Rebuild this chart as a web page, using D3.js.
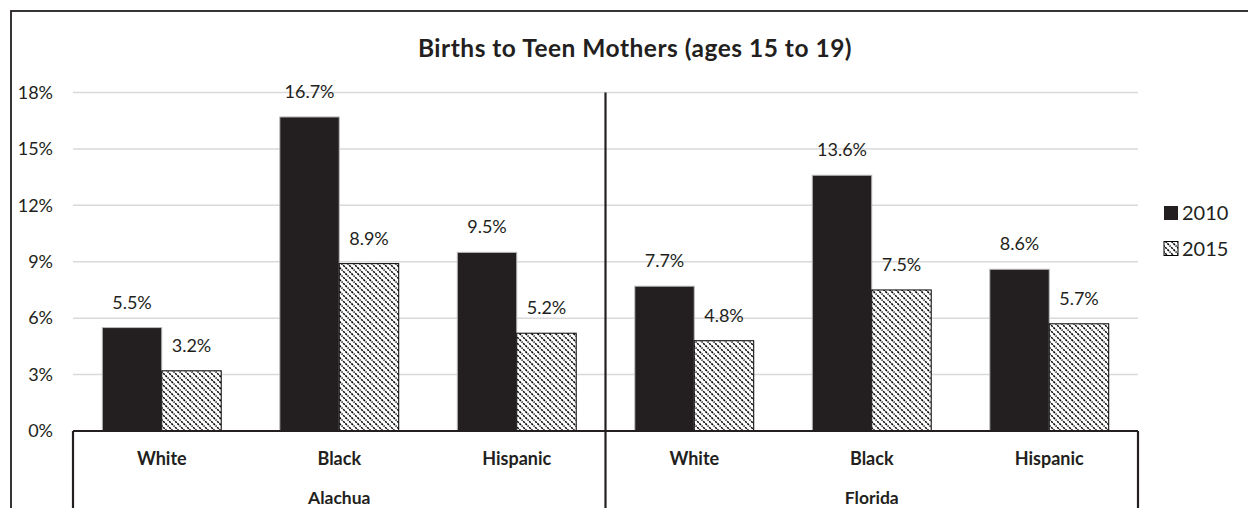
<!DOCTYPE html>
<html><head><meta charset="utf-8">
<script src="https://cdn.jsdelivr.net/npm/d3@7"></script>
<style>body{margin:0;background:#fff}svg{display:block}</style>
</head><body>
<svg id="c" width="1248" height="508"></svg>
<script>
const regions = ["Alachua", "Florida"];
const races = ["White", "Black", "Hispanic"];
const series = ["2010", "2015"];
const values2010 = [5.5, 16.7, 9.5, 7.7, 13.6, 8.6];
const values2015 = [3.2, 8.9, 5.2, 4.8, 7.5, 5.7];
const yTicks = [0, 3, 6, 9, 12, 15, 18];
const title = "Births to Teen Mothers (ages 15 to 19)";

(function(){
const FONT = "Lato, 'Open Sans', sans-serif";
const INK = "#231f20";
const svg = d3.select("#c");
const defs = svg.append("defs");
const pat = defs.append("pattern").attr("id","hatch").attr("patternUnits","userSpaceOnUse")
  .attr("width",6).attr("height",6);
pat.append("rect").attr("width",6).attr("height",6).attr("fill","#fff");
pat.append("path").attr("d","M-1,-1 L7,7 M-1,5 L1,7 M5,-1 L7,1").attr("stroke","#000")
  .attr("stroke-width",1.5).attr("stroke-dasharray","2.2,0.9");

svg.append("rect").attr("x",11).attr("y",11).attr("width",1400).attr("height",700)
  .attr("fill","none").attr("stroke",INK).attr("stroke-width",1.8);

const pLeft = 73, pRight = 1138, pTop = 92.5, base = 431;
const cats = [];
regions.forEach(r => races.forEach(c => cats.push(r + "|" + c)));
const x = d3.scaleBand().domain(cats).range([pLeft, pRight]).paddingInner(0.33).paddingOuter(0.165);
const x1 = d3.scaleBand().domain(series).range([0, x.bandwidth()]);
const y = d3.scaleLinear().domain([0, 18]).range([base, pTop]);

svg.append("g").selectAll("line").data(yTicks.filter(t=>t>0)).join("line")
  .attr("x1",pLeft).attr("x2",pRight).attr("y1",d=>y(d)).attr("y2",d=>y(d))
  .attr("stroke","#d9d9d9").attr("stroke-width",1.5);

const yAxis = d3.axisLeft(y).tickValues(yTicks).tickFormat(d=>d+"%").tickSize(0).tickPadding(0);
const ya = svg.append("g").attr("transform",`translate(53,0)`).call(yAxis);
ya.select(".domain").remove();
ya.selectAll("text").attr("font-family",FONT).attr("font-size",18).attr("fill",INK);

const data = [];
cats.forEach((c,i)=>{
  data.push({cat:c, s:"2010", v:values2010[i]});
  data.push({cat:c, s:"2015", v:values2015[i]});
});
svg.append("g").selectAll("rect").data(data).join("rect")
  .attr("x",d=>x(d.cat)+x1(d.s)).attr("width",x1.bandwidth())
  .attr("y",d=>y(d.v)).attr("height",d=>base-y(d.v))
  .attr("fill",d=>d.s==="2010"?INK:"url(#hatch)")
  .attr("stroke",d=>d.s==="2010"?"#bbb":"#000").attr("stroke-width",1);

svg.append("g").selectAll("text").data(data).join("text")
  .attr("x",d=>x(d.cat)+x1(d.s)+x1.bandwidth()/2).attr("y",d=>y(d.v)-19)
  .attr("text-anchor","middle").attr("font-family",FONT).attr("font-size",18).attr("fill",INK)
  .text(d=>d.v.toFixed(1)+"%");

svg.append("line").attr("x1",pLeft).attr("x2",pRight).attr("y1",base).attr("y2",base)
  .attr("stroke",INK).attr("stroke-width",2.2);
const mid = x(cats[3]) - x.step()*x.paddingInner()/2;
[[pLeft,base],[mid,pTop],[pRight,base]].forEach(([xx,y0])=>{
  svg.append("line").attr("x1",xx).attr("x2",xx).attr("y1",y0).attr("y2",510)
    .attr("stroke",INK).attr("stroke-width",2.2);
});

svg.append("g").selectAll("text").data(cats).join("text")
  .attr("x",d=>x(d)+x.bandwidth()/2).attr("y",465)
  .attr("text-anchor","middle").attr("font-family",FONT).attr("font-size",18).attr("font-weight","bold")
  .attr("fill",INK).text(d=>d.split("|")[1]);
const regionScale = d3.scaleBand().domain(regions).range([pLeft,pRight]);
svg.append("g").selectAll("text").data(regions).join("text")
  .attr("x",d=>regionScale(d)+regionScale.bandwidth()/2).attr("y",504)
  .attr("text-anchor","middle").attr("font-family",FONT).attr("font-size",17.5).attr("font-weight","bold")
  .attr("fill",INK).text(d=>d);

svg.append("text").attr("x",635).attr("y",57).attr("text-anchor","middle")
  .attr("font-family",FONT).attr("font-size",24.5).attr("letter-spacing",0.5).attr("font-weight","bold").attr("fill",INK).text(title);

const lg = svg.append("g");
series.forEach((s,i)=>{
  const yy = 213 + i*35.5;
  lg.append("rect").attr("x",1164).attr("y",yy-7).attr("width",14).attr("height",14)
    .attr("fill",i===0?INK:"url(#hatch)").attr("stroke",i===0?"none":"#000");
  lg.append("text").attr("x",1182).attr("y",yy+7).attr("font-family",FONT).attr("font-size",20)
    .attr("fill",INK).text(s);
});
})();
</script>
</body></html>
